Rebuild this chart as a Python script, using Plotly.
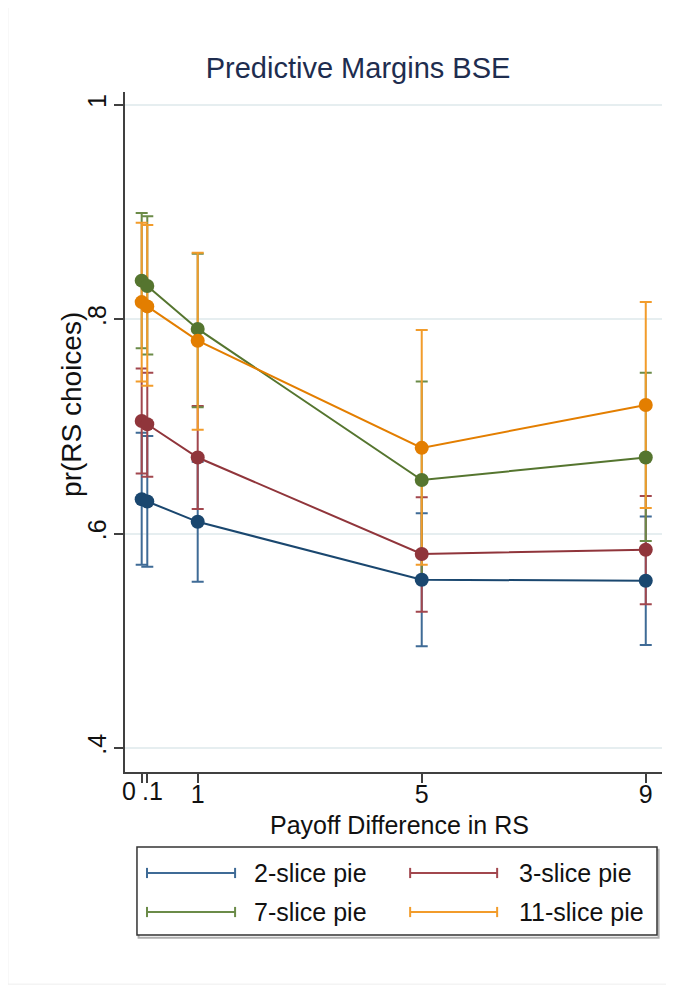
import plotly.graph_objects as go

# ---- data ----
payoff_diff = [0, 0.1, 1, 5, 9]
series_names = ["2-slice pie", "3-slice pie", "7-slice pie", "11-slice pie"]

margin_2 = [0.632, 0.630, 0.611, 0.557, 0.556]
lower_2 = [0.571, 0.569, 0.555, 0.495, 0.496]
upper_2 = [0.694, 0.691, 0.667, 0.619, 0.616]

margin_3 = [0.705, 0.702, 0.671, 0.581, 0.585]
lower_3 = [0.656, 0.653, 0.623, 0.527, 0.534]
upper_3 = [0.754, 0.750, 0.719, 0.634, 0.635]

margin_7 = [0.836, 0.831, 0.791, 0.650, 0.671]
lower_7 = [0.773, 0.767, 0.718, 0.558, 0.593]
upper_7 = [0.899, 0.896, 0.861, 0.742, 0.750]

margin_11 = [0.816, 0.812, 0.780, 0.680, 0.720]
lower_11 = [0.742, 0.738, 0.697, 0.571, 0.624]
upper_11 = [0.890, 0.888, 0.862, 0.790, 0.816]

y_tick_vals = [0.4, 0.6, 0.8, 1.0]
y_tick_text = [".4", ".6", ".8", "1"]
x_tick_vals = [0, 0.1, 1, 5, 9]
x_tick_text = ["0", ".1", "1", "5", "9"]

# ---- style ----
line_colors = ["#1a476f", "#90353b", "#55752f", "#e37e00"]
bar_colors = ["#3f6b96", "#a2474e", "#6b8b48", "#f29c2b"]
FONT = "Arial, Liberation Sans, sans-serif"
TXT = "#111111"
FS = 25

margins = [margin_2, margin_3, margin_7, margin_11]
lowers = [lower_2, lower_3, lower_7, lower_11]
uppers = [upper_2, upper_3, upper_7, upper_11]

fig = go.Figure()

# confidence interval caps first (drawn underneath)
for m, lo, hi, bc in zip(margins, lowers, uppers, bar_colors):
    fig.add_trace(go.Scatter(
        x=payoff_diff, y=m, mode="markers",
        marker=dict(size=1, opacity=0),
        error_y=dict(type="data", symmetric=False,
                     array=[h - v for h, v in zip(hi, m)],
                     arrayminus=[v - l for v, l in zip(m, lo)],
                     color=bc, thickness=2, width=6),
        showlegend=False, hoverinfo="skip"))

# lines + markers on top
for name, m, lc in zip(series_names, margins, line_colors):
    fig.add_trace(go.Scatter(
        x=payoff_diff, y=m, mode="lines+markers", name=name,
        line=dict(color=lc, width=2),
        marker=dict(color=lc, size=14),
        showlegend=False))

# ---- manual legend (Stata style box) ----
L = dict(x0=0.0223, x1=0.9907, y0=-0.2397, y1=-0.1103)
shapes = [
    dict(type="rect", xref="paper", yref="paper", x0=-0.218, x1=1.011,
         y0=-0.312, y1=1.128, line=dict(color="#eeeeee", width=1), layer="below"),
    dict(type="rect", xref="paper", yref="paper", x0=L["x0"] + 0.003, x1=L["x1"] + 0.003,
         y0=L["y0"] - 0.004, y1=L["y1"] - 0.004, line=dict(color="#b0b0b0", width=2)),
    dict(type="rect", xref="paper", yref="paper", x0=L["x0"], x1=L["x1"],
         y0=L["y0"], y1=L["y1"], line=dict(color="#333333", width=1.5),
         fillcolor="white"),
]
annotations = []
legend_pos = [(0.041, 0.205, 0.2365, -0.1485), (0.531, 0.693, 0.730, -0.1485),
              (0.041, 0.205, 0.2365, -0.2059), (0.531, 0.693, 0.730, -0.2059)]
for (sx0, sx1, tx, ty), name, bc in zip(legend_pos, series_names, bar_colors):
    shapes.append(dict(type="line", xref="paper", yref="paper", x0=sx0, x1=sx1,
                       y0=ty, y1=ty, line=dict(color=bc, width=2)))
    for cx in (sx0, sx1):
        shapes.append(dict(type="line", xref="paper", yref="paper", x0=cx, x1=cx,
                           y0=ty - 0.0075, y1=ty + 0.0075, line=dict(color=bc, width=2)))
    annotations.append(dict(xref="paper", yref="paper", x=tx, y=ty, text=name,
                            showarrow=False, xanchor="left", yanchor="middle",
                            font=dict(family=FONT, size=FS, color=TXT)))

# x tick labels for 0 and .1 (spread apart as in original)
annotations.append(dict(xref="x", yref="paper", x=x_tick_vals[0], y=-0.0285,
                        text=x_tick_text[0], showarrow=False, xanchor="center",
                        yanchor="middle", xshift=-13,
                        font=dict(family=FONT, size=FS, color=TXT)))
annotations.append(dict(xref="x", yref="paper", x=x_tick_vals[1], y=-0.0285,
                        text=x_tick_text[1], showarrow=False, xanchor="center",
                        yanchor="middle", xshift=5,
                        font=dict(family=FONT, size=FS, color=TXT)))
# axis titles
annotations.append(dict(xref="paper", yref="paper", x=0.512, y=-0.078,
                        text="Payoff Difference in RS", showarrow=False,
                        xanchor="center", yanchor="middle",
                        font=dict(family=FONT, size=FS, color=TXT)))
annotations.append(dict(xref="paper", yref="paper", x=-0.0985, y=0.54,
                        text="pr(RS choices)", showarrow=False, textangle=-90,
                        xanchor="center", yanchor="middle",
                        font=dict(family=FONT, size=28, color=TXT)))

fig.update_layout(
    width=666, height=981,
    margin=dict(l=117, r=12, t=84, b=217),
    paper_bgcolor="white", plot_bgcolor="white",
    title=dict(text="Predictive Margins BSE", x=0.434, xref="paper", xanchor="center",
               y=0.9388, yref="container", yanchor="middle",
               font=dict(family=FONT, size=29, color="#1e2d4f")),
    shapes=shapes, annotations=annotations,
    showlegend=False,
)
fig.update_xaxes(
    range=[-0.298, 9.29], tickvals=x_tick_vals,
    ticktext=["", ""] + x_tick_text[2:], tickangle=0,
    ticks="outside", ticklen=9, tickwidth=1.5, tickcolor="#404040",
    showline=True, linecolor="#404040", linewidth=1.5,
    showgrid=False, zeroline=False, ticklabelstandoff=-10,
    tickfont=dict(family=FONT, size=FS, color=TXT),
)
fig.update_yaxes(
    range=[0.3776, 1.012], tickvals=y_tick_vals, ticktext=y_tick_text, tickangle=-90,
    ticks="outside", ticklen=9, tickwidth=1.5, tickcolor="#404040",
    showline=True, linecolor="#404040", linewidth=1.5,
    showgrid=True, gridcolor="#e6eef0", gridwidth=1.5, zeroline=False,
    ticklabelstandoff=-2,
    tickfont=dict(family=FONT, size=FS, color=TXT),
)

fig.write_html("out.html")
